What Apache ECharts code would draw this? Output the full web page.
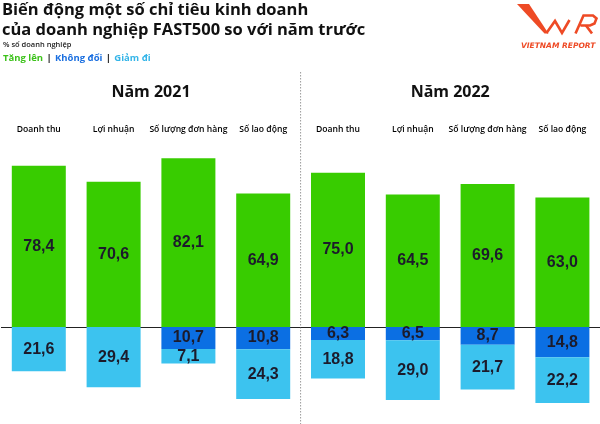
<!DOCTYPE html>
<html><head><meta charset="utf-8">
<script src="https://cdn.jsdelivr.net/npm/echarts@6/dist/echarts.min.js"></script>
<style>html,body{margin:0;padding:0;background:#fff}#c{width:600px;height:424px}</style>
</head><body><div id="c"></div>
<script>
const categories = ['Doanh thu', 'Lợi nhuận', 'Số lượng đơn hàng', 'Số lao động'];
const years = ['Năm 2021', 'Năm 2022'];
const increase2021 = [78.4, 70.6, 82.1, 64.9];
const increase2022 = [75.0, 64.5, 69.6, 63.0];
const unchanged2021 = [0, 0, 10.7, 10.8];
const unchanged2022 = [6.3, 6.5, 8.7, 14.8];
const decrease2021 = [21.6, 29.4, 7.1, 24.3];
const decrease2022 = [18.8, 29.0, 21.7, 22.2];

const increase = increase2021.concat(increase2022);
const unchanged = unchanged2021.concat(unchanged2022);
const decrease = decrease2021.concat(decrease2022);
const xData = [];
years.forEach((y, yi) => categories.forEach(c => xData.push(yi + '|' + c)));

const GREEN = '#38cc00', BLUE = '#0b6fe3', LIGHT = '#3cc3ef', LOGO = '#ee4a25';
const chart = echarts.init(document.getElementById('c'), null, { renderer: 'canvas' });
const fmt = p => { const v = Math.abs(p.value); return v ? v.toFixed(1).replace('.', ',') : ''; };
const labelStyle = { show: true, position: 'inside', formatter: fmt, color: '#1c1b2b',
  fontFamily: '"Liberation Sans", sans-serif', fontWeight: 'bold', fontSize: 16 };

chart.setOption({
  animation: false,
  grid: { left: 1.4, width: 598.4, top: 142, bottom: 14.85 },
  xAxis: [
    { type: 'category', data: xData, position: 'bottom',
      axisLine: { onZero: true, lineStyle: { color: '#222', width: 1 } },
      axisTick: { show: false }, axisLabel: { show: false } },
    { type: 'category', data: xData, position: 'top',
      axisLine: { show: false, onZero: false }, axisTick: { show: false },
      axisLabel: { margin: 8, interval: 0, formatter: v => v.split('|')[1],
        fontFamily: 'Open Sans', fontSize: 8.6, fontWeight: 600, color: '#000' } }
  ],
  yAxis: { type: 'value', min: -40, max: 90, interval: 10, show: false },
  series: [
    { type: 'bar', name: 'Tăng lên', stack: 's', data: increase, barWidth: 54,
      itemStyle: { color: GREEN }, label: labelStyle },
    { type: 'bar', name: 'Không đổi', stack: 's', data: unchanged.map(v => -v), barWidth: 54,
      itemStyle: { color: BLUE }, label: labelStyle },
    { type: 'bar', name: 'Giảm đi', stack: 's', data: decrease.map(v => -v), barWidth: 54,
      itemStyle: { color: LIGHT }, label: labelStyle }
  ]
});

const px = i => chart.convertToPixel({ xAxisIndex: 0 }, i);
const n = categories.length;
const divX = (px(n - 1) + px(n)) / 2;
const yearCenters = years.map((y, yi) => (px(yi * n) + px(yi * n + n - 1)) / 2);

const graphics = [
  { type: 'text', left: 2, top: 2, style: { text: 'Biến động một số chỉ tiêu kinh doanh', font: 'bold 16.5px "Open Sans"', fill: '#111' } },
  { type: 'text', left: 2, top: 21.5, style: { text: 'của doanh nghiệp FAST500 so với năm trước', font: 'bold 16.5px "Open Sans"', fill: '#111' } },
  { type: 'text', left: 3, top: 40.5, style: { text: '% số doanh nghiệp', font: '600 7.5px "Open Sans"', fill: '#222' } },
  { type: 'text', left: 3, top: 52.5, style: {
      text: '{g|Tăng lên} {s||} {b|Không đổi} {s||} {l|Giảm đi}',
      rich: {
        g: { font: 'bold 9.5px "Open Sans"', fill: '#3dc21b' },
        s: { font: 'bold 9.5px "Open Sans"', fill: '#111' },
        b: { font: 'bold 9.5px "Open Sans"', fill: '#1a6fe0' },
        l: { font: 'bold 9.5px "Open Sans"', fill: '#35b5e8' }
      } } },
  // logo
  { type: 'polygon', shape: { points: [[517, 4], [529, 4], [548.5, 33.5], [544.5, 33.5]] }, style: { fill: LOGO } },
  { type: 'polyline', shape: { points: [[546.5, 33], [555, 21], [562, 33], [569.5, 20]] }, style: { stroke: LOGO, lineWidth: 2.6, fill: null, lineJoin: 'miter' } },
  { type: 'polyline', shape: { points: [[575.5, 33.5], [583.5, 15.5], [593, 15.5], [596.5, 18.5], [594.5, 23.5], [590, 25.5], [580.5, 25.5]] }, style: { stroke: LOGO, lineWidth: 2.6, fill: null } },
  { type: 'line', shape: { x1: 586, y1: 25.5, x2: 592, y2: 33.5 }, style: { stroke: LOGO, lineWidth: 2.6 } },
  { type: 'text', left: 521, top: 42, style: { text: 'VIETNAM REPORT', font: 'italic bold 7.5px "DejaVu Sans"', fill: LOGO } },
  { type: 'line', shape: { x1: divX, y1: 72, x2: divX, y2: 424 }, style: { stroke: '#9a9a9a', lineWidth: 1, lineDash: [1.5, 1.5] } }
];
years.forEach((y, yi) => graphics.push({ type: 'text', x: yearCenters[yi], y: 92.5,
  style: { text: y, font: 'bold 16px "Open Sans"', fill: '#111', align: 'center', verticalAlign: 'middle' } }));
chart.setOption({ graphic: graphics });
</script></body></html>
